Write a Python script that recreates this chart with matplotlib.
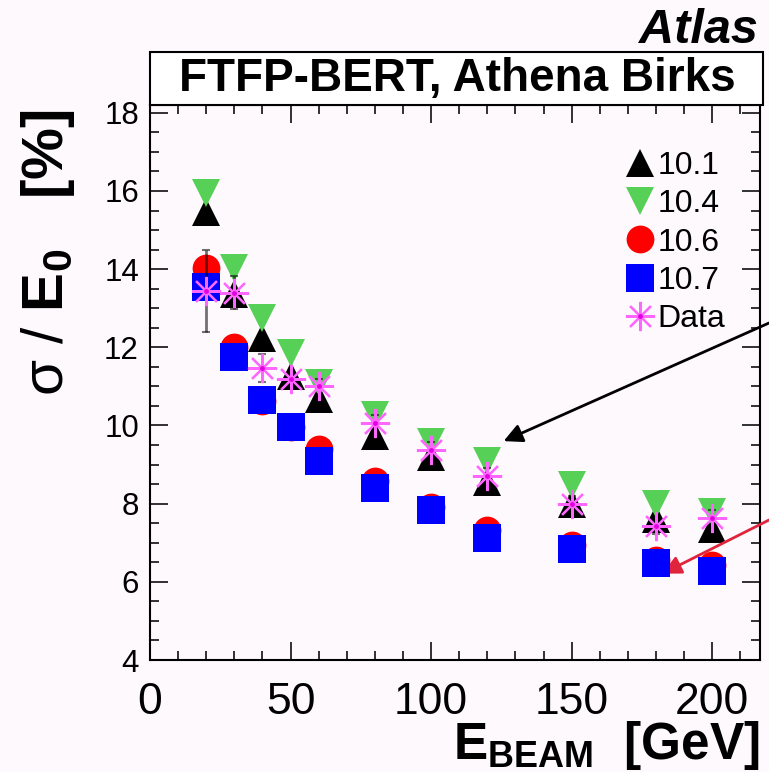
import numpy as np
import matplotlib
matplotlib.use("Agg")
import matplotlib.pyplot as plt
from matplotlib.ticker import MultipleLocator
from matplotlib.patches import Rectangle
from matplotlib.lines import Line2D
from matplotlib.legend_handler import HandlerTuple

plt.rcParams['font.family'] = ['Liberation Sans', 'DejaVu Sans']
plt.rcParams['mathtext.fontset'] = 'custom'
plt.rcParams['mathtext.rm'] = 'Liberation Sans'
plt.rcParams['mathtext.it'] = 'Liberation Sans:italic'
plt.rcParams['mathtext.bf'] = 'Liberation Sans:bold'

# beam energies [GeV]
energy = [20, 30, 40, 50, 60, 80, 100, 120, 150, 180, 200]

# resolution sigma/E0 [%]
res_101 = [15.45, 13.36, 12.24, 11.26, 10.68, 9.74, 9.19, 8.55, 8.00, 7.60, 7.36]
res_104 = [15.96, 14.02, 12.74, 11.85, 11.10, 10.26, 9.57, 9.10, 8.48, 8.00, 7.78]
res_106 = [14.02, 12.02, 10.62, 9.97, 9.39, 8.58, 7.92, 7.33, 6.95, 6.57, 6.42]
res_107 = [13.55, 11.75, 10.64, 9.95, 9.08, 8.39, 7.83, 7.13, 6.84, 6.47, 6.28]
res_data = [13.44, 13.40, 11.48, 11.20, 11.00, 10.06, 9.37, 8.71, 8.00, 7.43, 7.64]
err_data = [1.05, 0.43, 0.36, 0.2, 0.2, 0.2, 0.2, 0.2, 0.2, 0.2, 0.2]

bg = '#fdf9fd'
green = '#57d057'
magenta = '#ff66ff'

fig = plt.figure(figsize=(7.69, 7.72), dpi=100, facecolor=bg)
ax = fig.add_axes([150/769, 112/772, 610/769, 555/772])
ax.set_facecolor(bg)

ms_tri = 19.5
ms_sq = 19.5
ms_dot = 20
ast = dict(marker=(8, 2, 0), ls='none', color=magenta, mec=magenta, ms=21, mew=1.6)
dot = dict(marker='o', ls='none', color='#e000e0', ms=3.5, mew=0)

ax.plot(energy, res_101, '^', color='k', ms=ms_tri, mew=0, label='10.1', zorder=3)
ax.plot(energy, res_104, 'v', color=green, ms=ms_tri, mew=0, label='10.4', zorder=4)
ax.plot(energy, res_106, 'o', color='red', ms=ms_dot, mew=0, label='10.6', zorder=5)
ax.plot(energy, res_107, 's', color='blue', ms=ms_sq, mew=0, label='10.7', zorder=6)
ax.errorbar(energy, res_data, yerr=err_data, fmt='none', ecolor='k', alpha=0.55,
            elinewidth=2, capsize=3, capthick=1.5, zorder=7)
ax.plot(energy, res_data, zorder=8, **ast)
ax.plot(energy, res_data, zorder=9, **dot)

ax.set_xlim(0, 217)
ax.set_ylim(4, 18.2)
ax.xaxis.set_major_locator(MultipleLocator(50))
ax.xaxis.set_minor_locator(MultipleLocator(10))
ax.yaxis.set_major_locator(MultipleLocator(2))
ax.yaxis.set_minor_locator(MultipleLocator(0.5))
ax.tick_params(which='both', direction='in', top=True, right=True, width=1.3, color='#222222')
ax.tick_params(which='major', length=13)
ax.tick_params(which='minor', length=6.5)
ax.tick_params(axis='x', labelsize=32, pad=16)
ax.tick_params(axis='y', labelsize=22.5, pad=8)
for s in ax.spines.values():
    s.set_linewidth(1.5)

# legend
h_data = (Line2D([], [], **ast), Line2D([], [], **dot))
handles, labels = ax.get_legend_handles_labels()
leg = ax.legend(handles + [h_data], labels + ['Data'], loc='upper left',
                bbox_to_anchor=(624/769, 1 - 151/772), bbox_transform=fig.transFigure,
                frameon=False, fontsize=23, handlelength=1.0, handletextpad=0.05,
                labelspacing=0.26, borderpad=0, borderaxespad=0,
                handler_map={tuple: HandlerTuple(ndivide=1, pad=0)})

# arrows
ax.annotate('', xy=(125.8, 9.6), xycoords='data', xytext=(1.0, 1 - 323/772),
            textcoords='figure fraction', annotation_clip=False,
            arrowprops=dict(arrowstyle='-|>', color='k', lw=2, mutation_scale=28,
                            shrinkA=0, shrinkB=0))
ax.annotate('', xy=(182.3, 6.21), xycoords='data', xytext=(1.0, 1 - 520/772),
            textcoords='figure fraction', annotation_clip=False,
            arrowprops=dict(arrowstyle='-|>', color='#e0243c', lw=2, mutation_scale=28,
                            shrinkA=0, shrinkB=0))

# title box
fig.patches.append(Rectangle((150/769, 1 - 105/772), 613/769, 53/772,
                             transform=fig.transFigure, facecolor='white',
                             edgecolor='k', lw=1.5, zorder=5))
fig.text(457/769, 1 - 79/772, 'FTFP-BERT, Athena Birks', ha='center', va='center',
         fontsize=33, fontweight='bold', zorder=6)
fig.text(758/769, 1 - 43/772, 'Atlas', ha='right', va='baseline', fontsize=35,
         fontweight='bold', style='italic')

# axis titles
fig.text(760/769, 1 - 759/772, r'$\mathbf{E_{BEAM}}$  $\mathbf{[GeV]}$', ha='right',
         va='baseline', fontsize=37)
fig.text(48/769, 1 - 110/772, r'$\mathrm{\sigma}$ / $\mathbf{E_{0}}$   $\mathbf{[\%]}$',
         ha='center', va='top', rotation=90, fontsize=42)

fig.savefig('out.png', dpi=100, facecolor=bg)
